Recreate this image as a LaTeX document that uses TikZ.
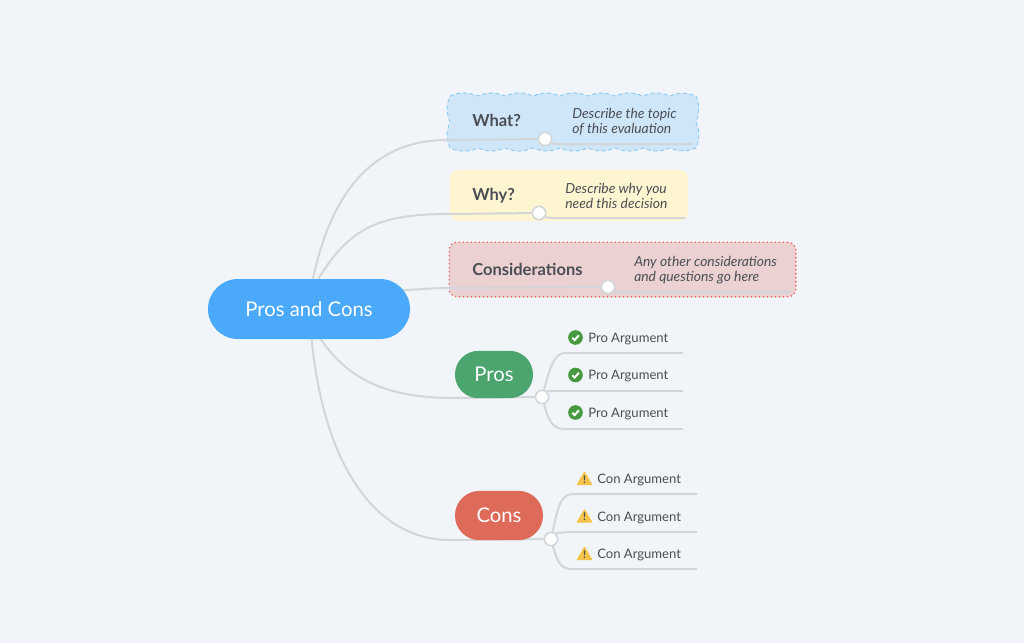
\documentclass[tikz,border=0pt]{standalone}
\usepackage{fontspec}
\setmainfont{Lato}
\usetikzlibrary{positioning}
\definecolor{pagebg}{HTML}{F1F5F9}
\definecolor{linegray}{HTML}{D3D6D9}
\definecolor{inkgray}{HTML}{4A4F55}
\definecolor{mainblue}{HTML}{4AA9FB}
\definecolor{prosgreen}{HTML}{4CA46E}
\definecolor{consred}{HTML}{DE6A59}
\definecolor{whatfill}{HTML}{CFE5F8}
\definecolor{whatedge}{HTML}{8CCBF5}
\definecolor{whyfill}{HTML}{FFF5D0}
\definecolor{considerfill}{HTML}{EBD1D1}
\definecolor{consideredge}{HTML}{F0685E}
\definecolor{checkgreen}{HTML}{46993F}
\definecolor{warnyellow}{HTML}{F6C34A}
\pgfdeclarelayer{page}
\pgfdeclarelayer{boxes}
\pgfdeclarelayer{lines}
\pgfsetlayers{page,boxes,lines,main}
\tikzset{
	pill/.style={rounded corners=17.6pt, inner sep=0pt, text=white, font=\fontsize{15.2}{18}\selectfont},
	branch/.style={draw=linegray, line width=1.5pt},
	dot/.style={circle, draw=linegray, fill=white, line width=1.2pt, minimum size=10pt, inner sep=0pt},
	title/.style={anchor=west, inner sep=0pt, text=inkgray, font=\fontsize{12.4}{14}\bfseries\selectfont},
	note/.style={anchor=west, inner sep=0pt, align=left, text=inkgray, font=\fontsize{10.4}{11.25}\itshape\selectfont},
	argument/.style={anchor=west, inner sep=0pt, text=inkgray, font=\fontsize{9.8}{11}\selectfont},
	checkicon/.style={circle, fill=checkgreen, minimum size=11pt, inner sep=0pt},
	warnicon/.style={inner sep=0pt, minimum size=0pt, text=inkgray, font=\fontsize{8}{8}\bfseries\selectfont},
	pics/tick/.style={code={\draw[white, line width=1.5pt] (-3.2,0.2) -- (-0.9,2.6) -- (3.4,-2.2);}},
	pics/warntri/.style={code={\fill[warnyellow, draw=warnyellow, line width=1pt, line join=round] (0,-6) -- (7,6) -- (-7,6) -- cycle;}}
}
\begin{document}
\begin{tikzpicture}[x=0.75pt, y=-0.75pt]

	% page
	\begin{pgfonlayer}{page}
	\fill[pagebg] (0,0) rectangle (1024,643);
	\end{pgfonlayer}
	\useasboundingbox (0,0) rectangle (1024,643);

	% topic boxes
	\begin{pgfonlayer}{boxes}
	\draw[fill=whatfill, draw=whatedge, densely dashed, line width=0.7pt] (450,96)
	to[bend left=22] (478,96) to[bend left=22] (505,96) to[bend left=22] (533,96)
	to[bend left=22] (560,96) to[bend left=22] (588,96) to[bend left=22] (615,96)
	to[bend left=22] (643,96) to[bend left=22] (670,96) to[bend left=22] (696,96)
	to[bend left=22] (696,122) to[bend left=22] (696,148)
	to[bend left=22] (670,148) to[bend left=22] (643,148) to[bend left=22] (615,148)
	to[bend left=22] (588,148) to[bend left=22] (560,148) to[bend left=22] (533,148)
	to[bend left=22] (505,148) to[bend left=22] (478,148) to[bend left=22] (450,148)
	to[bend left=22] (450,122) to[bend left=22] (450,96) -- cycle;
	\node[fill=whyfill, rounded corners=6pt, minimum width=178.5pt, minimum height=38pt] (whybox) at (569,195.5) {};
	\node[fill=considerfill, draw=consideredge, dotted, line width=1pt, rounded corners=6pt, minimum width=260pt, minimum height=41pt] (considerbox) at (622.5,269.5) {};
	\end{pgfonlayer}

	% main topic
	\node[pill, fill=mainblue, rounded corners=22.5pt, minimum width=151.5pt, minimum height=45pt] (main) at (309,309) {Pros and Cons};

	% subtopics
	\node[pill, fill=prosgreen, minimum width=58.5pt, minimum height=35.5pt] (pros) at (494,374.5) {Pros};
	\node[pill, fill=consred, rounded corners=18.4pt, minimum width=66pt, minimum height=37pt] (cons) at (499,515.5) {Cons};

	% dots
	\node[dot] (whatdot) at (545,139) {};
	\node[dot] (whydot) at (539,213) {};
	\node[dot] (considerdot) at (608,287) {};
	\node[dot] (prosdot) at (542,397) {};
	\node[dot] (consdot) at (551,539) {};

	% line ends
	\coordinate (whatin) at (447,140);
	\coordinate (whyin) at (450,214);
	\coordinate (considerin) at (450,288);
	\coordinate (prosin) at (455,398);
	\coordinate (consin) at (450,540);
	\coordinate (whatend) at (692,144);
	\coordinate (whyend) at (685,218);
	\coordinate (considerend) at (790,292);
	\coordinate (proa) at (683,353);
	\coordinate (prob) at (683,391);
	\coordinate (proc) at (683,429);
	\coordinate (cona) at (697,494);
	\coordinate (conb) at (697,532);
	\coordinate (conc) at (697,569);

	% draw lines
	\begin{pgfonlayer}{lines}
	\draw[branch] ([xshift=3pt]main.north) .. controls +(18,-85) and +(-75,0) .. (whatin) -- (whatdot);
	\draw[branch] ([xshift=7pt]main.north) .. controls +(32,-52) and +(-70,0) .. (whyin) -- (whydot);
	\draw[branch] (400,290) .. controls +(15,0) and +(-20,0) .. (considerin) -- (considerdot);
	\draw[branch] ([xshift=9pt]main.south) .. controls +(30,45) and +(-60,0) .. (prosin) -- (prosdot);
	\draw[branch] ([xshift=2pt]main.south) .. controls +(12,125) and +(-75,0) .. (consin) -- (consdot);

	\draw[branch] (whatdot) .. controls +(8,5) and +(-8,0) .. (565,144) -- (whatend);
	\draw[branch] (whydot) .. controls +(8,5) and +(-8,0) .. (558,218) -- (whyend);
	\draw[branch] (considerdot) .. controls +(8,5) and +(-8,0) .. (627,292) -- (considerend);

	\draw[branch] (prosdot) .. controls +(7,-25) and +(-12,0) .. (565,353) -- (proa);
	\draw[branch] (prosdot) .. controls +(5,-6) and +(-8,0) .. (565,391) -- (prob);
	\draw[branch] (prosdot) .. controls +(7,25) and +(-12,0) .. (565,429) -- (proc);

	\draw[branch] (consdot) .. controls +(7,-33) and +(-12,0) .. (573,494) -- (cona);
	\draw[branch] (consdot) .. controls +(5,-6) and +(-8,0) .. (573,532) -- (conb);
	\draw[branch] (consdot) .. controls +(7,25) and +(-12,0) .. (573,569) -- (conc);
	\end{pgfonlayer}

	% labels
	\node[title] (whattitle) at (472,120.5) {What?};
	\node[note] (whatnote) at (572,122) {Describe the topic\\of this evaluation};
	\node[title] (whytitle) at (472,196) {Why?};
	\node[note] (whynote) at (565,195.5) {Describe why you\\need this decision};
	\node[title] (considertitle) at (472,269.5) {Considerations};
	\node[note] (considernote) at (634,270.5) {Any other considerations\\and questions go here};

	% pro arguments
	\node[checkicon] (proicona) at (575.5,337.5) {};
	\pic at (proicona) {tick};
	\node[argument] (protexta) at (588,339) {Pro Argument};
	\node[checkicon] (proiconb) at (575.5,375) {};
	\pic at (proiconb) {tick};
	\node[argument] (protextb) at (588,376.5) {Pro Argument};
	\node[checkicon] (proiconc) at (575.5,412.5) {};
	\pic at (proiconc) {tick};
	\node[argument] (protextc) at (588,414) {Pro Argument};

	% con arguments
	\coordinate (conicona) at (584.5,478.5);
	\pic at (conicona) {warntri};
	\node[warnicon] at (584.5,479.5) {!};
	\node[argument] (contexta) at (597,480) {Con Argument};
	\coordinate (coniconb) at (584.5,516);
	\pic at (coniconb) {warntri};
	\node[warnicon] at (584.5,517) {!};
	\node[argument] (contextb) at (597,517.5) {Con Argument};
	\coordinate (coniconc) at (584.5,553.5);
	\pic at (coniconc) {warntri};
	\node[warnicon] at (584.5,554.5) {!};
	\node[argument] (contextc) at (597,555) {Con Argument};

\end{tikzpicture}
\end{document}
